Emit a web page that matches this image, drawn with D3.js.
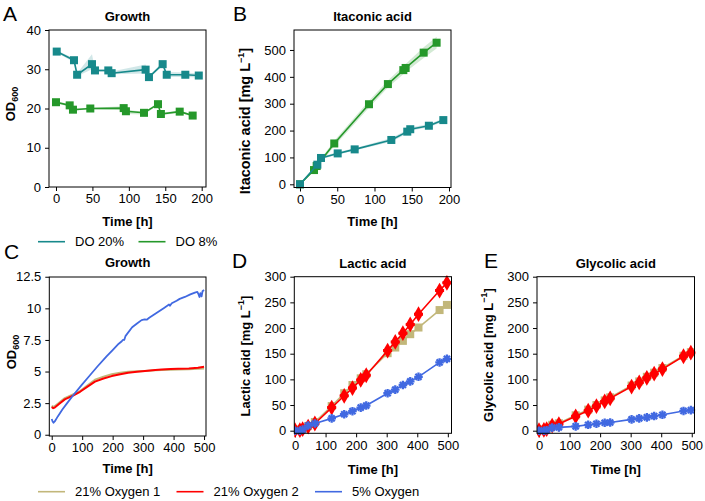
<!DOCTYPE html>
<html><head><meta charset="utf-8">
<script src="https://cdn.jsdelivr.net/npm/d3@7"></script>
<style>
html,body{margin:0;padding:0;background:#fff;}
svg{display:block;font-family:"Liberation Sans",Arial,sans-serif;}
</style></head>
<body><svg id="c" width="705" height="501"></svg>
<script>
// ---------- DATA ----------
// Panel A: growth (OD600)
const aT20 = [1, 24.7, 29, 49.4, 53.5, 71.8, 76.4, 123, 127.6, 146.4, 152, 177.5, 196];
const aV20 = [34.5, 32.3, 28.6, 31.3, 29.7, 29.7, 29.0, 29.9, 28.0, 31.3, 28.6, 28.6, 28.4];
const aLo20 = [34.2, 31.8, 28.2, 30.0, 29.3, 29.4, 28.7, 28.9, 27.7, 30.8, 28.0, 28.0, 27.9];
const aHi20 = [34.8, 32.8, 29.0, 33.8, 30.1, 30.0, 29.4, 31.2, 28.3, 31.8, 29.3, 29.2, 28.9];
const aT8 = [0, 18.8, 23.3, 47.1, 92.9, 96, 120.8, 140, 144, 169.8, 187.6];
const aV8 = [21.6, 20.8, 19.7, 20.0, 20.1, 19.3, 18.9, 21.1, 18.6, 19.2, 18.2];
const aLo8 = [21.3, 20.5, 19.4, 19.8, 19.6, 18.6, 18.5, 20.8, 18.3, 18.9, 17.9];
const aHi8 = [21.9, 21.1, 20.0, 20.2, 20.6, 19.7, 19.2, 21.4, 18.9, 19.5, 18.5];
// Panel B: itaconic acid
const bT20 = [0, 23.3, 28.2, 50.6, 73.4, 122.6, 144, 148, 173, 192.4];
const bV20 = [0, 73, 98, 115, 130, 165, 196, 205, 218, 239];
const bLo20 = [0, 66, 93, 110, 126, 158, 189, 199, 212, 233];
const bHi20 = [0, 80, 103, 120, 134, 172, 203, 211, 224, 245];
const bT8 = [0, 18.8, 22.4, 46, 92.6, 118, 138.7, 141.8, 166, 183.4];
const bV8 = [0, 53, 68, 152, 298, 373, 425, 433, 490, 527];
const bLo8 = [0, 47, 61, 142, 285, 360, 410, 418, 470, 505];
const bHi8 = [0, 59, 75, 162, 311, 386, 440, 448, 510, 549];
// Panel C: online growth curves
const cTBlue = [0, 3, 6, 10, 20, 35, 50, 70, 98, 120, 150, 180, 200, 220, 230, 234, 238, 242, 264, 280, 295, 305, 312, 320, 350, 370, 385, 388, 394, 410, 420, 437, 455, 470, 478, 482, 485, 488, 492, 495, 500];
const cVBlue = [1.25, 1.05, 0.95, 1.05, 1.45, 2.0, 2.48, 3.1, 3.93, 4.55, 5.4, 6.2, 6.7, 7.2, 7.4, 7.5, 7.5, 7.8, 8.5, 8.8, 9.07, 9.12, 9.1, 9.25, 9.73, 10.05, 10.3, 10.2, 10.4, 10.6, 10.75, 10.9, 11.1, 11.25, 11.3, 11.1, 10.9, 11.2, 10.95, 11.35, 11.45];
const cT21 = [0, 5, 10, 25, 43, 70, 93, 120, 142, 170, 197, 225, 251, 280, 306, 340, 361, 390, 415, 450, 480, 500];
const cV21a = [2.3, 2.2, 2.25, 2.55, 2.9, 3.2, 3.45, 3.95, 4.35, 4.6, 4.78, 4.9, 4.98, 5.02, 5.05, 5.1, 5.13, 5.15, 5.17, 5.19, 5.22, 5.25];
const cV21b = [2.2, 2.1, 2.15, 2.45, 2.8, 3.1, 3.4, 3.85, 4.2, 4.45, 4.64, 4.78, 4.9, 4.98, 5.05, 5.12, 5.17, 5.2, 5.22, 5.25, 5.3, 5.38];
// Panels D and E: sampling times
const deTimes = [0, 16, 25, 43, 65, 120, 161, 188, 215, 233, 303, 328, 353, 377, 404, 473, 497];
const dLac21a = [2, 2, 3, 9, 17, 48, 73, 89, 102, 110, 151, 162, 175, 188, 201, 235, 245];
const dLac21b = [1, 1, 3, 8, 14, 45, 68, 83, 99, 108, 156, 173, 190, 207, 227, 273, 288];
const dLac5 = [0, 0, 2, 10, 14, 24, 32, 38, 45, 49, 73, 80, 89, 96, 105, 133, 140];
const eGly21a = [2, 2.5, 4, 11.5, 14.5, 30, 41, 50, 59, 65, 88, 96, 105, 113, 122, 146, 153];
const eGly21b = [1, 1.5, 3, 10, 13, 28, 39, 48, 57, 63, 86, 94, 103, 111, 120, 145, 152];
const eGly5 = [0, 0, 1, 6, 6.5, 8.5, 11.5, 13.5, 15.5, 16, 22, 24, 26, 28.5, 31, 38.5, 40];
// Tick labels
const ticksA_x = [0, 50, 100, 150, 200], ticksA_y = [0, 10, 20, 30, 40];
const ticksB_y = [0, 100, 200, 300, 400, 500];
const ticksC_x = [0, 100, 200, 300, 400, 500], ticksC_y = [0, 2.5, 5, 7.5, 10, 12.5];
const ticksDE_y = [0, 50, 100, 150, 200, 250, 300];
const legend1 = ["DO 20%", "DO 8%"];
const legend2 = ["21% Oxygen 1", "21% Oxygen 2", "5% Oxygen"];

// ---------- STYLE ----------
const COL = {teal: "#17898b", green: "#25982a", khaki: "#c2b77a", red: "#ff0000", blue: "#4169e1"};
const svg = d3.select("#c");
const FONT = 13;

function zip(t, v, lo, hi) { return t.map((d, i) => ({t: d, v: v[i], lo: lo ? lo[i] : null, hi: hi ? hi[i] : null})); }

function panel(o) {
  const x = d3.scaleLinear().domain(o.xd).range([o.l, o.r]);
  const y = d3.scaleLinear().domain(o.yd).range([o.b, o.t]);
  const g = svg.append("g");
  const clipId = "clip" + o.letter;
  svg.append("clipPath").attr("id", clipId).append("rect").attr("x", o.l).attr("y", o.t - 6).attr("width", o.r - o.l + 6).attr("height", o.b - o.t + 12);
  const xa = g.append("g").attr("transform", `translate(0,${o.b})`)
    .call(d3.axisBottom(x).tickValues(o.xt).tickSize(4).tickPadding(3).tickSizeOuter(0).tickFormat(d3.format("~g")));
  const ya = g.append("g").attr("transform", `translate(${o.l},0)`)
    .call(d3.axisLeft(y).tickValues(o.yt).tickSize(4).tickPadding(4).tickSizeOuter(0).tickFormat(d3.format("~g")));
  [xa, ya].forEach(a => { a.select(".domain").remove(); a.selectAll("text").attr("font-size", FONT).attr("fill", "#000").attr("font-family", '"Liberation Sans",Arial,sans-serif'); a.selectAll("line").attr("stroke", "#000"); });
  const plot = g.append("g").attr("clip-path", `url(#${clipId})`);
  g.append("rect").attr("x", o.l).attr("y", o.t).attr("width", o.r - o.l).attr("height", o.b - o.t).attr("fill", "none").attr("stroke", "#000").attr("stroke-width", 1);
  g.append("text").attr("x", (o.l + o.r) / 2).attr("y", o.titleY).attr("text-anchor", "middle").attr("font-weight", "bold").attr("font-size", FONT).text(o.title);
  g.append("text").attr("x", o.letX).attr("y", o.letY).attr("font-size", 21).text(o.letter);
  g.append("text").attr("x", (o.l + o.r) / 2).attr("y", o.xlabY).attr("text-anchor", "middle").attr("font-weight", "bold").attr("font-size", FONT).text("Time [h]");
  const yl = g.append("text").attr("transform", `translate(${o.ylabX},${o.ylabY}) rotate(-90)`).attr("text-anchor", "middle").attr("font-weight", "bold").attr("font-size", o.ylabSize || FONT);
  o.ylab(yl);
  return {x, y, plot};
}

function ylabOD(t) { t.append("tspan").text("OD"); t.append("tspan").attr("font-size", 9).attr("dy", 3).text("600"); }
function ylabAcid(name) { return t => { t.append("tspan").text(name + " [mg L"); t.append("tspan").attr("font-size", 9).attr("dy", -6).text("−1"); t.append("tspan").attr("dy", 6).text("]"); }; }

function band(p, data, col) {
  p.plot.append("path").datum(data).attr("fill", col).attr("fill-opacity", 0.2).attr("stroke", "none")
    .attr("d", d3.area().x(d => p.x(d.t)).y0(d => p.y(d.lo)).y1(d => p.y(d.hi)));
}
function line(p, data, col, w) {
  p.plot.append("path").datum(data).attr("fill", "none").attr("stroke", col).attr("stroke-width", w || 1.6).attr("stroke-linejoin", "round")
    .attr("d", d3.line().x(d => p.x(d.t)).y(d => p.y(d.v)));
}
function squares(p, data, col, s) {
  s = s || 8;
  p.plot.selectAll(null).data(data).enter().append("rect").attr("x", d => p.x(d.t) - s / 2).attr("y", d => p.y(d.v) - s / 2).attr("width", s).attr("height", s).attr("fill", col);
}
function diamonds(p, data, col) {
  const sym = d3.symbol().type(d3.symbolDiamond).size(72);
  const cr = d3.symbol().type(d3.symbolCross).size(45);
  const gg = p.plot.selectAll(null).data(data).enter().append("g").attr("transform", d => `translate(${p.x(d.t)},${p.y(d.v)})`);
  gg.append("path").attr("d", sym).attr("fill", col);
  gg.append("path").attr("d", cr).attr("fill", col);
}
function stars(p, data, col) {
  const gg = p.plot.selectAll(null).data(data).enter().append("g").attr("transform", d => `translate(${p.x(d.t)},${p.y(d.v)})`);
  [0, 45, 90, 135].forEach(a => {
    gg.append("line").attr("x1", -4.3).attr("x2", 4.3).attr("y1", 0).attr("y2", 0).attr("stroke", col).attr("stroke-width", 2.3).attr("transform", `rotate(${a})`);
  });
}

// ---------- PANEL A ----------
const pA = panel({letter: "A", l: 49, r: 206, t: 30, b: 187, xd: [-9.6, 205.9], yd: [0, 40], xt: ticksA_x, yt: ticksA_y,
  title: "Growth", titleY: 20.5, letX: 3, letY: 21, xlabY: 226, ylabX: 15, ylabY: 104, ylab: ylabOD});
const a20 = zip(aT20, aV20, aLo20, aHi20), a8 = zip(aT8, aV8, aLo8, aHi8);
band(pA, a20, COL.teal); band(pA, a8, COL.green);
line(pA, a20, COL.teal); squares(pA, a20, COL.teal);
line(pA, a8, COL.green); squares(pA, a8, COL.green);

// ---------- PANEL B ----------
const pB = panel({letter: "B", l: 294, r: 451, t: 30, b: 187.5, xd: [-8.05, 202.7], yd: [-11.9, 574.3], xt: ticksA_x, yt: ticksB_y,
  title: "Itaconic acid", titleY: 20.5, letX: 233, letY: 21, xlabY: 226, ylabX: 250, ylabY: 121, ylabSize: 14.5, ylab: ylabAcid("Itaconic acid")});
const b20 = zip(bT20, bV20, bLo20, bHi20), b8 = zip(bT8, bV8, bLo8, bHi8);
band(pB, b8, COL.green); band(pB, b20, COL.teal);
line(pB, b8, COL.green); squares(pB, b8, COL.green);
line(pB, b20, COL.teal); squares(pB, b20, COL.teal);

// ---------- PANEL C ----------
const pC = panel({letter: "C", l: 49.3, r: 206, t: 277, b: 436, xd: [-7.9, 506.4], yd: [-0.1, 12.48], xt: ticksC_x, yt: ticksC_y,
  title: "Growth", titleY: 267, letX: 4, letY: 259, xlabY: 473, ylabX: 16, ylabY: 352, ylab: ylabOD});
line(pC, zip(cT21, cV21a), COL.khaki, 2);
line(pC, zip(cT21, cV21b), COL.red, 2);
line(pC, zip(cTBlue, cVBlue), COL.blue, 1.8);

// ---------- PANEL D ----------
const pD = panel({letter: "D", l: 294.3, r: 451.5, t: 276.7, b: 433.3, xd: [-2.3, 512], yd: [-5.07, 300], xt: ticksC_x, yt: ticksDE_y,
  title: "Lactic acid", titleY: 268, letX: 232, letY: 268, xlabY: 473.5, ylabX: 250, ylabY: 356, ylab: ylabAcid("Lactic acid")});
const d1 = zip(deTimes, dLac21a), d2 = zip(deTimes, dLac21b), d3s = zip(deTimes, dLac5);
line(pD, d1, COL.khaki); squares(pD, d1, COL.khaki, 8);
line(pD, d2, COL.red); diamonds(pD, d2, COL.red);
line(pD, d3s, COL.blue); stars(pD, d3s, COL.blue);

// ---------- PANEL E ----------
const pE = panel({letter: "E", l: 537, r: 694.5, t: 276.7, b: 433.3, xd: [-6.6, 509], yd: [-5.07, 300], xt: ticksC_x, yt: ticksDE_y,
  title: "Glycolic acid", titleY: 268, letX: 484, letY: 268, xlabY: 473.5, ylabX: 493, ylabY: 355, ylab: ylabAcid("Glycolic acid")});
const e1 = zip(deTimes, eGly21a), e2 = zip(deTimes, eGly21b), e3 = zip(deTimes, eGly5);
line(pE, e1, COL.khaki); squares(pE, e1, COL.khaki, 8);
line(pE, e2, COL.red); diamonds(pE, e2, COL.red);
line(pE, e3, COL.blue); stars(pE, e3, COL.blue);

// ---------- LEGENDS ----------
function legend(items, cols, xs, yy) {
  items.forEach((name, i) => {
    svg.append("line").attr("x1", xs[i]).attr("x2", xs[i] + 27).attr("y1", yy).attr("y2", yy).attr("stroke", cols[i]).attr("stroke-width", 1.6);
    svg.append("text").attr("x", xs[i] + 37).attr("y", yy + 4.5).attr("font-size", FONT).text(name);
  });
}
legend(legend1, [COL.teal, COL.green], [38, 138.5], 241.7);
legend(legend2, [COL.khaki, COL.red, COL.blue], [38, 176.5, 315], 491.7);
</script></body></html>
